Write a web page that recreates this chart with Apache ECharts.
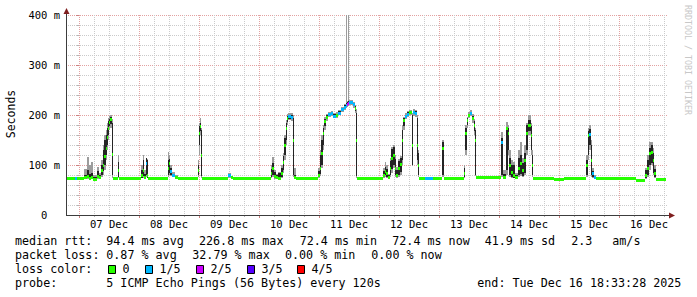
<!DOCTYPE html>
<html><head><meta charset="utf-8">
<script src="https://cdn.jsdelivr.net/npm/echarts@6/dist/echarts.min.js"></script>
<style>html,body{margin:0;padding:0;background:#fff}#c{width:697px;height:297px}</style>
</head><body><div id="c"></div>
<script>
// ---------- DATA (time = hours from 07 Dec 00:00, values in ms) ----------
const dayLabels = ['07 Dec','08 Dec','09 Dec','10 Dec','11 Dec','12 Dec','13 Dec','14 Dec','15 Dec','16 Dec'];
const dayLabelHours = [12,36,60,84,108,132,156,180,204,228];
const midnightHours = [0,24,48,72,96,120,144,168,192,216];
const sixHourTicks = [6,12,18,30,36,42,54,60,66,78,84,90,102,108,114,126,132,138,150,156,162,174,180,186,198,204,210,222,228,234];
const yTickValues = [0,100,200,300,400];
const yTickLabels = ['0\u00a0\u00a0','100 m','200 m','300 m','400 m'];

const segStart = [-5.2,-1.8,-1.0,2.0,3.0,3.8,4.8,5.6,7.0,8.0,8.8,9.4,10.0,10.6,11.2,11.6,12.0,12.5,13.0,13.5,15.4,16.0,
 24.8,25.4,26.0,26.6,27.2,27.6,35.5,36.0,36.5,37.2,38.2,39.4,47.6,48.0,48.4,48.9,49.3,59.4,60.6,61.4,
 76.6,77.2,78.0,78.6,79.6,80.8,81.4,82.0,82.6,83.0,83.6,84.6,85.6,86.0,86.8,
 95.6,96.2,96.8,97.4,98.0,98.6,99.4,100.6,101.6,102.8,103.6,104.8,105.8,106.6,107.0,107.6,108.0,109.4,110.2,110.8,111.2,
 121.6,122.2,122.8,123.4,124.2,124.8,125.6,126.2,126.8,127.6,128.4,129.2,129.6,130.2,131.0,132.0,133.0,133.4,134.4,135.0,135.6,136.0,138.4,141.6,145.0,145.8,
 153.8,154.4,155.0,155.6,156.4,157.2,157.8,158.4,158.8,
 168.8,169.6,170.6,171.6,172.0,172.6,173.4,174.4,175.6,176.4,177.2,178.0,178.8,179.6,180.6,181.0,181.6,190.0,194.0,
 202.8,203.4,204.0,204.6,205.2,206.0,206.8,222.8,226.4,227.0,227.8,228.6,229.4,230.0,230.6];
const dataEnd = 234.8;

const median = [74,75,74,76,78,74,76,72,78,76,90,100,118,135,157,175,187,192,122,74,90,74,
 80,90,76,105,80,74,95,105,88,80,77,74,90,165,178,120,75,80,76,74,
 84,95,78,76,74,85,107,140,175,194,198,196,150,76,74,
 80,95,125,165,188,196,202,204,199,200,205,212,217,220,223,225,227,222,214,150,75,
 80,88,84,76,95,115,120,95,80,95,102,150,190,198,203,206,140,206,205,140,100,74,74,74,134,74,
 85,165,190,200,204,195,180,150,77,
 147,76,175,165,100,87,80,76,95,104,90,110,165,180,160,100,75,72,74,
 100,160,162,110,84,77,74,71,80,95,125,127,110,85,72];
const smokeLo = [72,72,72,72,72,70,72,70,72,72,76,80,90,110,130,150,170,175,74,72,74,72,
 74,75,73,76,74,72,76,80,78,76,74,72,76,120,160,74,73,74,73,72,
 74,76,73,72,72,74,85,110,140,180,190,188,76,73,72,
 74,78,95,130,170,188,196,198,194,194,200,206,210,214,217,218,220,215,205,75,73,
 74,76,74,72,76,85,95,76,74,76,80,100,170,192,197,200,98,198,196,100,76,72,72,72,76,72,
 74,120,175,194,198,185,160,78,75,
 76,74,80,120,76,74,74,74,76,78,76,80,120,160,120,76,73,70,72,
 76,110,130,76,74,74,72,69,72,76,90,100,80,74,70];
const smokeHi = [76,77,76,92,117,100,107,80,97,85,110,140,160,170,185,195,198,200,192,76,120,76,
 100,120,90,115,112,76,127,120,100,86,80,76,110,185,194,175,77,84,79,76,
 100,117,90,82,87,100,125,160,190,202,205,204,200,95,76,
 95,130,160,180,196,202,207,209,205,206,210,217,222,450,228,450,230,227,220,212,77,
 95,107,100,82,115,137,140,120,96,112,118,180,196,204,208,211,205,212,210,200,130,76,76,76,150,76,
 100,180,196,206,210,202,192,175,79,
 167,90,187,180,130,110,106,84,130,147,115,140,185,200,185,130,77,74,76,
 120,175,180,150,95,80,76,73,95,120,147,147,135,100,74];
const coreLo = [73,73,73,73,74,72,73,71,74,73,80,88,100,120,140,160,178,182,80,73,76,73,
 75,78,74,80,75,73,80,85,80,77,75,73,80,140,168,78,74,76,74,73,
 76,80,74,73,73,76,90,120,150,186,193,192,80,74,73,
 76,82,100,140,178,192,199,201,196,197,202,208,213,216,219,221,223,218,208,78,74,
 76,80,76,73,80,92,100,80,76,80,86,110,178,195,200,203,100,202,200,110,80,73,73,73,80,73,
 76,130,180,197,201,190,168,80,76,
 80,75,90,130,80,76,75,75,80,82,78,85,130,168,130,80,74,71,73,
 80,120,140,80,76,75,73,70,74,80,100,105,85,76,71];
const coreHi = [75,76,75,80,90,82,85,76,88,80,100,130,150,160,175,188,193,196,185,75,107,75,
 90,110,82,114,110,75,110,112,95,83,79,75,100,178,185,170,76,82,78,75,
 92,104,86,80,85,95,118,155,185,198,201,200,195,80,75,
 88,120,150,175,193,200,205,207,203,203,208,215,220,224,226,228,229,225,218,205,76,
 88,97,92,80,108,132,137,112,90,108,115,170,194,201,206,209,200,209,208,195,124,75,75,75,147,75,
 95,175,194,203,207,199,188,170,78,
 154,82,177,175,115,100,100,80,115,120,105,125,180,190,178,120,76,73,75,
 110,168,172,140,88,79,75,72,90,110,135,140,125,92,73];
const lossIdx = [0,1,0,0,0,0,0,0,0,0,0,0,0,0,0,0,0,0,0,0,0,0,
 0,0,0,1,0,0,0,0,1,1,0,0,0,0,0,0,0,1,0,0,
 0,0,0,0,0,0,0,0,0,0,1,1,0,0,0,
 0,0,0,0,0,0,1,1,1,0,1,1,1,1,2,2,1,1,0,0,0,
 0,0,0,0,0,0,0,0,0,0,0,0,0,1,1,0,0,1,1,0,0,0,1,0,0,0,
 0,0,0,0,1,0,0,0,0,
 1,0,0,0,0,0,0,0,0,0,0,0,0,0,0,0,0,0,0,
 0,0,1,0,1,1,0,0,0,0,0,0,0,0,0];

const lossColors = ['#26ff00','#00b8ff','#cc00ff','#5500ff','#ff0000'];
const lossLabels = ['0','1/5','2/5','3/5','4/5'];
const rttStats = ['94.4 ms avg','226.8 ms max','72.4 ms min','72.4 ms now','41.9 ms sd','2.3','am/s'];
const lossStats = ['0.87 % avg','32.79 % max','0.00 % min','0.00 % now'];
const probeText = '5 ICMP Echo Pings (56 Bytes) every 120s';
const endText = 'end: Tue Dec 16 18:33:28 2025';

// ---------- LAYOUT ----------
const G = {left:66, top:15, width:602, height:200};
const X_MIN = -5.2, X_MAX = -5.2 + 602/2.5;
const MONO = 'DejaVu Sans Mono';
const MGRID = '#e2a2a2', GRID = '#cacaca', AXIS = '#3c3c3c', ARROW = '#7f1f1f';

const segEnd = i => (i + 1 < segStart.length ? segStart[i + 1] : dataEnd);
const smokeData = segStart.map((t, i) => [t, segEnd(i), smokeLo[i], smokeHi[i]]);
const coreData = segStart.map((t, i) => [t, segEnd(i), coreLo[i], coreHi[i]]);
const medData = segStart.map((t, i) => [t, segEnd(i), median[i], lossIdx[i]]);

function rangeRenderer(fill) {
  return function (params, api) {
    const a = api.coord([api.value(0), api.value(3)]);
    const b = api.coord([api.value(1), api.value(2)]);
    const cs = params.coordSys;
    const x0 = Math.round(a[0]), x1 = Math.round(b[0]);
    const shape = echarts.graphic.clipRectByRect(
      {x: x0, y: Math.round(a[1]), width: Math.max(x1 - x0, 1), height: Math.max(Math.round(b[1]) - Math.round(a[1]), 1)},
      {x: cs.x, y: cs.y, width: cs.width, height: cs.height});
    return shape ? {type: 'rect', shape: shape, style: {fill: fill}} : null;
  };
}
function medianRenderer(params, api) {
  const a = api.coord([api.value(0), api.value(2)]);
  const b = api.coord([api.value(1), api.value(2)]);
  const x0 = Math.round(a[0]), x1 = Math.round(b[0]);
  const y = Math.round(a[1]);
  return {type: 'rect', shape: {x: x0, y: y - 1, width: Math.max(x1 - x0, 1), height: 3},
          style: {fill: lossColors[api.value(3)]}};
}

const chart = echarts.init(document.getElementById('c'), null, {renderer: 'svg'});

const txt = (x, y, s, extra) => Object.assign({type: 'text', x: x, y: y, z: 100,
  style: {text: s, fill: '#000', fontSize: 11.7, fontFamily: MONO, align: 'left', verticalAlign: 'middle'}}, extra || {});

const rows = [241, 255, 269, 283];
const gfx = [];
gfx.push(txt(15, rows[0], 'median rtt:'));
[106.3, 199, 299.7, 392.3, 484.7, 571.3, 612.3].forEach((x, i) => gfx.push(txt(x, rows[0], rttStats[i])));
gfx.push(txt(15, rows[1], 'packet loss:'));
[106.3, 192.3, 285, 371.3].forEach((x, i) => gfx.push(txt(x, rows[1], lossStats[i])));
gfx.push(txt(15, rows[2], 'loss color:'));
[108.5, 145.5, 196.5, 247.5, 297.5].forEach((x, i) => {
  gfx.push({type: 'rect', z: 100, shape: {x: x, y: 265.5, width: 7, height: 8},
            style: {fill: lossColors[i], stroke: '#000', lineWidth: 1}});
  gfx.push(txt(x + 14, rows[2], lossLabels[i]));
});
gfx.push(txt(15, rows[3], 'probe:'));
gfx.push(txt(106.3, rows[3], probeText));
gfx.push(txt(477.3, rows[3], endText));
// axis title and watermark
gfx.push({type: 'text', x: 11, y: 114, rotation: Math.PI / 2, z: 100,
  style: {text: 'Seconds', fill: '#000', fontSize: 11.5, fontFamily: MONO, align: 'center', verticalAlign: 'middle'}});
gfx.push({type: 'text', x: 687.5, y: 60, rotation: -Math.PI / 2, z: 100,
  style: {text: 'RRDTOOL / TOBI OETIKER', fill: '#c8c8c8', fontSize: 8.3, fontFamily: MONO, align: 'center', verticalAlign: 'middle'}});
// axis lines and arrows
const xl = G.left, yb = G.top + G.height;
gfx.push({type: 'line', z: 100, shape: {x1: xl, y1: yb + 0.5, x2: G.left + G.width + 2, y2: yb + 0.5}, style: {stroke: AXIS, lineWidth: 1}});
gfx.push({type: 'line', z: 100, shape: {x1: xl + 0.5, y1: yb + 1, x2: xl + 0.5, y2: G.top - 2}, style: {stroke: AXIS, lineWidth: 1}});
gfx.push({type: 'polygon', z: 101, shape: {points: [[G.left + G.width + 1, yb - 2.5], [G.left + G.width + 1, yb + 3.5], [G.left + G.width + 7, yb + 0.5]]}, style: {fill: ARROW}});
gfx.push({type: 'polygon', z: 101, shape: {points: [[xl - 2.5, G.top - 1], [xl + 3.5, G.top - 1], [xl + 0.5, G.top - 7]]}, style: {fill: ARROW}});

chart.setOption({
  animation: false,
  backgroundColor: '#ffffff',
  grid: {left: G.left, top: G.top, width: G.width, height: G.height, containLabel: false},
  xAxis: [
    { type: 'value', min: X_MIN, max: X_MAX, position: 'bottom',
      axisLine: {show: false}, axisLabel: {show: false},
      axisTick: {show: true, customValues: sixHourTicks, length: 2, lineStyle: {color: '#b4b4b4'}},
      splitLine: {show: true, lineStyle: {color: GRID, type: [1, 1], width: 1}} },
    { type: 'value', min: X_MIN, max: X_MAX, position: 'bottom',
      axisLine: {show: false},
      axisTick: {show: true, customValues: midnightHours, length: 3, lineStyle: {color: '#cc8080'}},
      axisLabel: {show: true, customValues: dayLabelHours, margin: 3,
        formatter: v => dayLabels[dayLabelHours.indexOf(v)],
        fontFamily: MONO, fontSize: 10.5, color: '#000'},
      splitLine: {show: true, lineStyle: {color: MGRID, type: [1, 1], width: 1}} }
  ],
  yAxis: {
    type: 'value', min: 0, max: 400, interval: 100,
    axisLine: {show: false},
    axisTick: {show: true, length: 3, lineStyle: {color: '#cc8080'}},
    minorTick: {show: true, splitNumber: 5, length: 2, lineStyle: {color: '#b4b4b4'}},
    splitLine: {show: true, lineStyle: {color: MGRID, type: [1, 1], width: 1}},
    minorSplitLine: {show: true, lineStyle: {color: GRID, type: [1, 1], width: 1}},
    axisLabel: {margin: 6, fontFamily: MONO, fontSize: 10.5, color: '#000',
      formatter: v => yTickLabels[yTickValues.indexOf(v)]}
  },
  series: [
    {type: 'custom', name: 'smoke', xAxisIndex: 1, z: 2, silent: true,
     encode: {x: [0, 1], y: [2, 3]}, renderItem: rangeRenderer('#9c9c9c'), data: smokeData},
    {type: 'custom', name: 'core', xAxisIndex: 1, z: 3, silent: true,
     encode: {x: [0, 1], y: [2, 3]}, renderItem: rangeRenderer('#242424'), data: coreData},
    {type: 'custom', name: 'median', xAxisIndex: 1, z: 4, silent: true,
     encode: {x: [0, 1], y: 2}, renderItem: medianRenderer, data: medData}
  ],
  graphic: {elements: gfx}
});
</script>
</body></html>
